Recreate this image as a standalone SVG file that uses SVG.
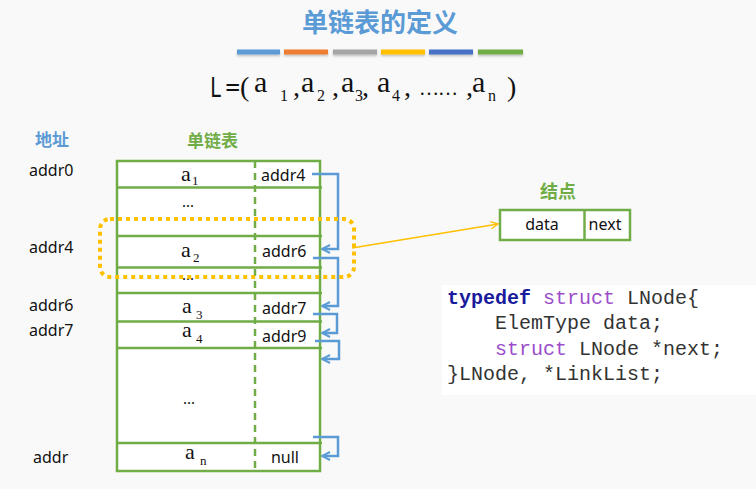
<svg xmlns="http://www.w3.org/2000/svg" width="756" height="489" viewBox="0 0 756 489">
<style>
.title{font-family:"Noto Sans CJK SC","Noto Sans",sans-serif;font-weight:bold;}
.lbl{font-family:"Noto Sans","Noto Sans CJK SC",sans-serif;font-size:16px;fill:#111;}
.ser{font-family:"Liberation Serif","Times New Roman",serif;fill:#111;}
.code{font-family:"Liberation Mono","Courier New",monospace;font-size:20px;fill:#333;white-space:pre;}
.grid{stroke:#70AD47;stroke-width:2.5;fill:none;}
.conn{stroke:#5B9BD5;stroke-width:2.5;fill:none;marker-end:url(#blueArr);}
</style>
<defs>
<marker id="blueArr" viewBox="0 0 10 10" refX="9" refY="5" markerWidth="10" markerHeight="10" markerUnits="userSpaceOnUse" orient="auto">
<path d="M1,1 L9,5 L1,9" fill="none" stroke="#5B9BD5" stroke-width="2"/>
</marker>
<marker id="orArr" viewBox="0 0 10 10" refX="9" refY="5" markerWidth="9" markerHeight="9" markerUnits="userSpaceOnUse" orient="auto">
<path d="M1,1 L9,5 L1,9" fill="none" stroke="#FFC000" stroke-width="1.5"/>
</marker>
<filter id="sh" x="-10%" y="-50%" width="120%" height="250%">
<feDropShadow dx="0" dy="1.5" stdDeviation="1" flood-color="#000" flood-opacity="0.25"/>
</filter>
</defs>
<rect width="756" height="489" fill="#F9F9F9"/>

<g id="title">
<text class="title" x="380" y="32" font-size="26" fill="#5B9BD5" text-anchor="middle">单链表的定义</text>
<g filter="url(#sh)">
<rect x="237" y="49.5" width="43" height="5" fill="#5B9BD5"/>
<rect x="284" y="49.5" width="44" height="5" fill="#ED7D31"/>
<rect x="333" y="49.5" width="44" height="5" fill="#A5A5A5"/>
<rect x="381" y="49.5" width="44" height="5" fill="#FFC000"/>
<rect x="429" y="49.5" width="44" height="5" fill="#4472C4"/>
<rect x="478" y="49.5" width="45" height="5" fill="#70AD47"/>
</g>
</g>

<g id="formula">
<text transform="translate(210,97) scale(0.8,1)" font-family="Noto Sans, sans-serif" font-size="27" fill="#111">L</text>
<text x="225" y="97" font-family="Noto Sans, sans-serif" font-size="27" fill="#111">=</text>
<text class="ser" x="240" y="96" font-size="28">(</text>
<text class="ser" x="254" y="92" font-size="30">a</text><text class="ser" x="280" y="101" font-size="16">1</text>
<text class="ser" x="293" y="96" font-size="28">,</text>
<text class="ser" x="301" y="92" font-size="30">a</text><text class="ser" x="317" y="101" font-size="16">2</text>
<text class="ser" x="332" y="96" font-size="28">,</text>
<text class="ser" x="341" y="92" font-size="30">a</text><text class="ser" x="355" y="101" font-size="16">3</text>
<text class="ser" x="362" y="96" font-size="28">,</text>
<text class="ser" x="377" y="92" font-size="30">a</text><text class="ser" x="392" y="101" font-size="16">4</text>
<text class="ser" x="404" y="96" font-size="28">,</text>
<text class="ser" x="419" y="95" font-size="20" textLength="39">……</text>
<text class="ser" x="466" y="96" font-size="28">,</text>
<text class="ser" x="472" y="92" font-size="30">a</text><text class="ser" x="488" y="101" font-size="16">n</text>
<text class="ser" x="507" y="96" font-size="28">)</text>
</g>

<g id="headers">
<text class="title" x="35" y="146" font-size="17" fill="#5B9BD5">地址</text>
<text class="title" x="187" y="147" font-size="17" fill="#70AD47">单链表</text>
</g>

<g id="addresses">
<text class="lbl" x="29" y="176">addr0</text>
<text class="lbl" x="29" y="253">addr4</text>
<text class="lbl" x="29" y="311">addr6</text>
<text class="lbl" x="29" y="336">addr7</text>
<text class="lbl" x="33" y="463">addr</text>
</g>

<g id="table">
<rect x="117" y="161" width="203" height="310" fill="#FFFFFF"/>
<line x1="255" y1="161" x2="255" y2="471" stroke="#70AD47" stroke-width="2.5" stroke-dasharray="7 5"/>
<rect class="grid" x="117" y="161" width="203" height="310"/>
<path class="grid" d="M117,187.5 H322 M117,236 H322 M117,267.5 H322 M117,293 H322 M117,321.5 H322 M117,348 H322 M117,443 H322"/>
</g>

<g id="row-a1">
<text class="ser" x="181" y="181" font-size="22">a</text><text class="ser" x="192" y="185" font-size="13">1</text>
<text class="lbl" x="261" y="181">addr4</text>
</g>
<g id="row-gap1"><text class="ser" x="182" y="207" font-size="16">...</text></g>
<g id="row-a2">
<text class="ser" x="181" y="257" font-size="22">a</text><text class="ser" x="193" y="262" font-size="13">2</text>
<text class="lbl" x="262" y="257">addr6</text>
</g>
<g id="row-gap2"><text class="ser" x="182" y="280" font-size="16">...</text></g>
<g id="row-a3">
<text class="ser" x="182" y="313" font-size="22">a</text><text class="ser" x="196" y="319" font-size="13">3</text>
<text class="lbl" x="262" y="314">addr7</text>
</g>
<g id="row-a4">
<text class="ser" x="182" y="336.5" font-size="22">a</text><text class="ser" x="196" y="343" font-size="13">4</text>
<text class="lbl" x="262" y="342">addr9</text>
</g>
<g id="row-gap3"><text class="ser" x="183" y="404" font-size="16">...</text></g>
<g id="row-an">
<text class="ser" x="185" y="459" font-size="22">a</text><text class="ser" x="200" y="465" font-size="13">n</text>
<text class="lbl" x="285" y="463" text-anchor="middle">null</text>
</g>

<g id="connectors">
<path class="conn" d="M312,174 H338 V249 H322"/>
<path class="conn" d="M313,258 H338 V306 H322"/>
<path class="conn" d="M313,314 H337 V333 H322"/>
<path class="conn" d="M315,341 H339 V359 H322"/>
<path class="conn" d="M313,437 H338 V456 H322"/>
<path d="M352,248 L498,224" stroke="#FFC000" stroke-width="1.5" fill="none" marker-end="url(#orArr)"/>
</g>

<g id="highlight">
<rect x="100" y="219" width="254" height="58" rx="10" fill="none" stroke="#FFC000" stroke-width="4" stroke-dasharray="4 4"/>
</g>

<g id="node">
<text class="title" x="558" y="198" font-size="18" fill="#70AD47" text-anchor="middle">结点</text>
<rect x="500" y="210" width="130" height="30" fill="#FFFFFF" stroke="#70AD47" stroke-width="2.5"/>
<line x1="584.5" y1="210" x2="584.5" y2="240" stroke="#70AD47" stroke-width="2.5"/>
<text class="lbl" x="542" y="230" font-size="15" text-anchor="middle">data</text>
<text class="lbl" x="605" y="230" font-size="15" text-anchor="middle">next</text>
</g>

<g id="code">
<rect x="442" y="285" width="314" height="110" fill="#FFFFFF"/>
<text class="code" x="447" y="304"><tspan fill="#1A1A9C" font-weight="bold">typedef</tspan> <tspan fill="#9B4DCA">struct</tspan> LNode{</text>
<text class="code" x="447" y="329">    ElemType data;</text>
<text class="code" x="447" y="355">    <tspan fill="#9B4DCA">struct</tspan> LNode *next;</text>
<text class="code" x="447" y="380">}LNode, *LinkList;</text>
</g>
</svg>
